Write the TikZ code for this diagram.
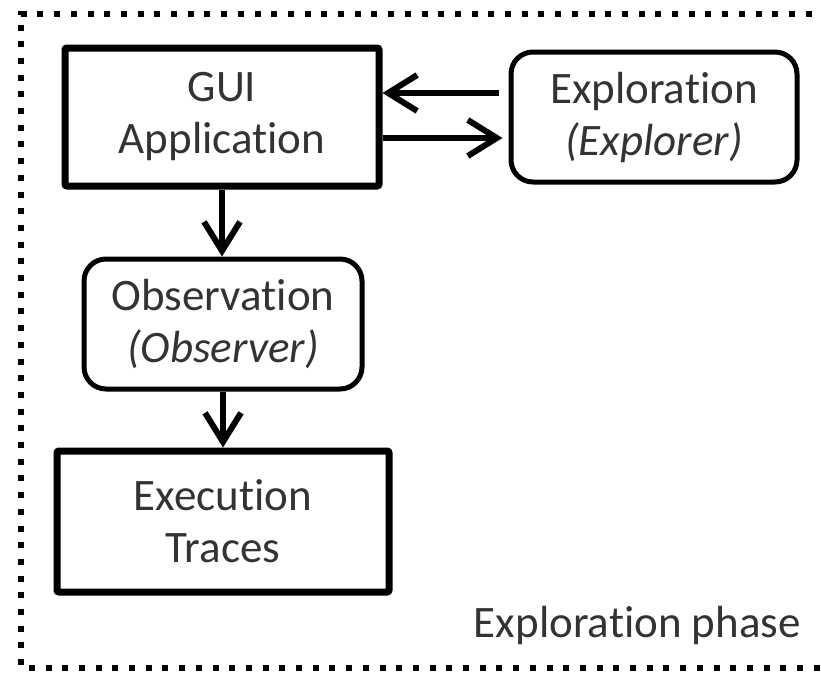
\documentclass[tikz,border=0pt]{standalone}
\usepackage{fontspec}
\setmainfont{Carlito}[Ligatures={NoCommon,NoRare,NoContextual}]
\usetikzlibrary{arrows.meta}
% keep t and i as separate glyphs
\newcommand{\tsep}{t\kern0pt }
\begin{document}
\begin{tikzpicture}[x=1pt,y=-1pt,
  txt/.style={text=black!80, font=\fontsize{45}{52}\selectfont, align=center},
  sqbox/.style={txt, draw=black, line width=7pt, rounded corners=2pt,
    inner sep=0pt, anchor=center},
  rndbox/.style={txt, draw=black, line width=5pt, rounded corners=22pt,
    inner sep=0pt, anchor=center},
  arr/.style={line width=6pt, -{Straight Barb[length=29pt,width=36pt]}},
  phase/.style={line width=6pt, dash pattern=on 6pt off 10.7pt}]
  \useasboundingbox (0,0) rectangle (821,672);

  % dotted frame of the phase (runs past the right edge)
  \begin{scope}
    \clip (0,0) rectangle (821,672);
    \draw[phase] (845,13.5) -- (21,13.5) -- (21,668) -- (845,668);
  \end{scope}

  % boxes
  \node[sqbox, minimum width=314pt, minimum height=138pt] (gui) at (222,117)
    {GUI\\Applica\tsep ion};
  \node[rndbox, minimum width=286pt, minimum height=130pt] (expl) at (654,117)
    {Explora\tsep ion\\\textit{(Explorer)}};
  \node[rndbox, minimum width=278pt, minimum height=130pt] (obs) at (223,324)
    {Observa\tsep ion\\\textit{(Observer)}};
  \node[sqbox, minimum width=332pt, minimum height=141pt] (exec) at (223,521.5)
    {Execu\tsep ion\\Traces};

  % connectors
  \draw[arr] ([shift={(-10,-24)}]expl.west) -- ([shift={(0,-24)}]gui.east);
  \draw[arr] ([shift={(0,21)}]gui.east) -- ([shift={(-6,21)}]expl.west);
  \draw[arr] (gui.south) -- (gui.south |- obs.north);
  \draw[arr] (obs.south) -- (obs.south |- exec.north);

  % phase label
  \node[txt, anchor=base east, inner sep=0pt] (lbl) at (801,637) {Explora\tsep ion phase};
\end{tikzpicture}
\end{document}
